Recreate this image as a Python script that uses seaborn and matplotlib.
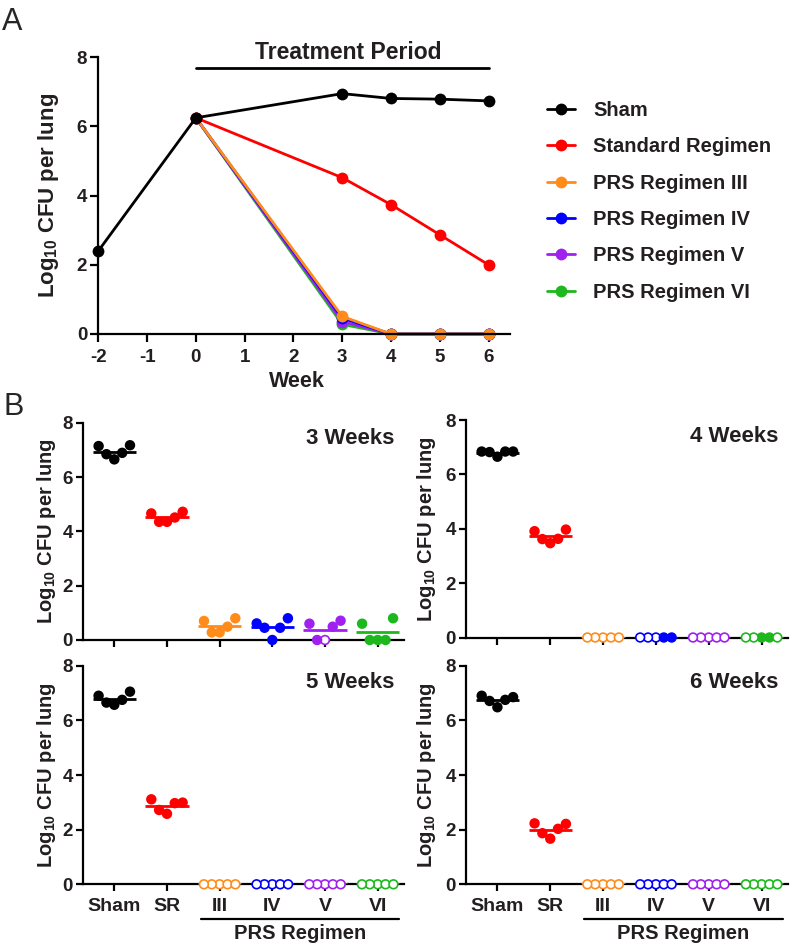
import numpy as np
import pandas as pd
import matplotlib
matplotlib.use('Agg')
import matplotlib.pyplot as plt
from matplotlib.lines import Line2D
import seaborn as sns

# ---- panel A: group means, log10 CFU per lung ----
weeks_sham = [-2, 0, 3, 4, 5, 6]
weeks_tx = [0, 3, 4, 5, 6]
sham_mean = [2.4, 6.25, 6.95, 6.81, 6.79, 6.74]
sr_mean = [6.25, 4.52, 3.74, 2.87, 2.0]
prs3_mean = [6.25, 0.51, 0, 0, 0]
prs4_mean = [6.25, 0.46, 0, 0, 0]
prs5_mean = [6.25, 0.36, 0, 0, 0]
prs6_mean = [6.25, 0.28, 0, 0, 0]

series_names = ['Sham', 'Standard Regimen', 'PRS Regimen III',
                'PRS Regimen IV', 'PRS Regimen V', 'PRS Regimen VI']
colors = ['#000000', '#ff0000', '#ff8c1a', '#0000ff', '#a020f0', '#1db81d']

# ---- panel B: individual mice ----
groups = ['Sham', 'SR', 'III', 'IV', 'V', 'VI']
wk3_cfu = [[7.17, 6.89, 6.65, 6.84, 7.14],
           [4.72, 4.51, 4.35, 4.35, 4.66],
           [0.49, 0.28, 0.80, 0.28, 0.70],
           [0.45, 0.80, 0.0, 0.61, 0.45],
           [0.49, 0.71, 0.0, 0.60, 0.0],
           [0.80, 0.60, 0.0, 0.0, 0.0]]
wk4_cfu = [[6.84, 6.84, 6.65, 6.82, 6.84],
           [3.63, 3.47, 3.97, 3.62, 3.91],
           [0, 0, 0, 0, 0], [0, 0, 0, 0, 0], [0, 0, 0, 0, 0], [0, 0, 0, 0, 0]]
wk5_cfu = [[7.05, 6.75, 6.57, 6.65, 6.90],
           [2.97, 2.58, 3.11, 2.72, 2.99],
           [0, 0, 0, 0, 0], [0, 0, 0, 0, 0], [0, 0, 0, 0, 0], [0, 0, 0, 0, 0]]
wk6_cfu = [[6.90, 6.75, 6.48, 6.71, 6.85],
           [2.03, 2.23, 1.67, 2.21, 1.87],
           [0, 0, 0, 0, 0], [0, 0, 0, 0, 0], [0, 0, 0, 0, 0], [0, 0, 0, 0, 0]]
# culture negative mice (open circles)
wk3_neg = [[0] * 5, [0] * 5, [0] * 5, [0] * 5, [0, 0, 1, 0, 0], [0] * 5]
wk4_neg = [[0] * 5, [0] * 5, [1] * 5, [1, 1, 0, 1, 0], [1] * 5, [0, 1, 0, 1, 1]]
wk5_neg = [[0] * 5, [0] * 5, [1] * 5, [1] * 5, [1] * 5, [1] * 5]
wk6_neg = [[0] * 5, [0] * 5, [1] * 5, [1] * 5, [1] * 5, [1] * 5]

sns.set_style('ticks')
plt.rcParams['font.family'] = ['Liberation Sans', 'DejaVu Sans']
plt.rcParams['font.weight'] = 'bold'
plt.rcParams['axes.labelweight'] = 'bold'
plt.rcParams['axes.unicode_minus'] = False
plt.rcParams['mathtext.fontset'] = 'custom'
plt.rcParams['mathtext.rm'] = 'Liberation Sans:bold'
plt.rcParams['mathtext.it'] = 'Liberation Sans:bold'
plt.rcParams['mathtext.bf'] = 'Liberation Sans:bold'
plt.rcParams['mathtext.default'] = 'rm'
TXT = '#231f20'

W, H = 794, 946
fig = plt.figure(figsize=(W / 100, H / 100), dpi=100)


def box(l, t, r, b):
    return [l / W, 1 - b / H, (r - l) / W, (b - t) / H]


def style_axis(ax, tick_len):
    sns.despine(ax=ax)
    for s in ['left', 'bottom']:
        ax.spines[s].set_linewidth(1.6)
        ax.spines[s].set_color('black')
    ax.tick_params(axis='both', width=1.6, length=tick_len, color='black',
                   labelcolor=TXT, labelsize=13.5)


ylab = 'Log$_{10}$ CFU per lung'

# ---------------- panel A ----------------
axA = fig.add_axes(box(98.3, 57.3, 510, 334))
pal = dict(zip(series_names, colors))
dfa = pd.DataFrame({
    'week': weeks_sham + weeks_tx * 5,
    'cfu': sham_mean + sr_mean + prs3_mean + prs4_mean + prs5_mean + prs6_mean,
    'series': ['Sham'] * len(weeks_sham) + [n for n in series_names[1:] for _ in weeks_tx],
})
sns.lineplot(data=dfa, x='week', y='cfu', hue='series', hue_order=series_names[::-1],
             palette=pal, marker='o', markersize=8.5, markeredgewidth=0, linewidth=2,
             legend=False, clip_on=False, ax=axA)
axA.set_xlim(-2, 6.44)
axA.set_ylim(0, 8)
axA.set_xticks(range(-2, 7))
axA.set_yticks([0, 2, 4, 6, 8])
style_axis(axA, 6)
axA.tick_params(axis='y', pad=2)
axA.tick_params(axis='x', pad=5)
axA.set_xlabel('Week', fontsize=15.5, color=TXT)
axA.set_ylabel(ylab, fontsize=16, color=TXT)
axA.xaxis.set_label_coords(0.483, -0.135)
axA.yaxis.set_label_coords(-0.09, 0.5)
axA.plot([0, 6], [7.7, 7.7], color='black', lw=2, clip_on=False)
axA.text(3.12, 7.82, 'Treatment Period', ha='center', va='bottom', fontsize=16.5, color=TXT)

handles = [Line2D([], [], color=c, marker='o', markersize=8.5, markeredgewidth=0, lw=2)
           for c in colors]
fig.legend(handles, series_names, loc='upper left', bbox_to_anchor=(547 / W, 1 - 101 / H),
           frameon=False, fontsize=14.5, handlelength=1.4, handletextpad=0.9,
           labelspacing=0.86, borderpad=0, borderaxespad=0, labelcolor=TXT)

# ---------------- panel B ----------------
panel_b = [
    (box(82.7, 422.7, 404, 640), wk3_cfu, wk3_neg, '3 Weeks', False, -0.077),
    (box(465.7, 420, 788, 637.5), wk4_cfu, wk4_neg, '4 Weeks', False, -0.086),
    (box(82.7, 665.7, 404, 884.3), wk5_cfu, wk5_neg, '5 Weeks', True, -0.077),
    (box(465.7, 665.7, 788, 884.3), wk6_cfu, wk6_neg, '6 Weeks', True, -0.086),
]
gpal = dict(zip(groups, colors))
swarm_colls = []
b_axes = []

for rect, cfu, neg, title, bottom, ylx in panel_b:
    ax = fig.add_axes(rect)
    b_axes.append(ax)
    df = pd.DataFrame({'group': np.repeat(groups, 5),
                       'cfu': np.concatenate(cfu),
                       'neg': np.concatenate(neg).astype(bool)})
    # swarm laid out with small dots, enlarged after layout so they touch like Prism
    sns.swarmplot(data=df, x='group', y='cfu', hue='group', order=groups,
                  hue_order=groups, palette=gpal, size=4.2, linewidth=0,
                  legend=False, clip_on=False, zorder=3, ax=ax)
    for coll, (g, sub) in zip(list(ax.collections), df.groupby('group', sort=False)):
        coll.set_facecolors(['white' if n else gpal[g] for n in sub['neg']])
        coll.set_edgecolors(gpal[g])
        coll.set_linewidths(1.2)
        swarm_colls.append(coll)
    means = df.groupby('group', sort=False)['cfu'].mean()
    xpos = np.arange(len(groups))
    ax.hlines(means.values, xpos - 0.41, xpos + 0.41, colors=colors, lw=2, zorder=2.8)
    ax.set_xlim(-0.6, 5.5)
    ax.set_yticks([0, 2, 4, 6, 8])
    style_axis(ax, 5)
    ax.tick_params(axis='y', pad=2)
    ax.set_xlabel('')
    ax.set_ylabel(ylab, fontsize=14.5, color=TXT)
    ax.yaxis.set_label_coords(ylx, 0.5)
    ax.text(0.97, 0.925, title, transform=ax.transAxes, ha='right', va='center',
            fontsize=16, color=TXT)
    if bottom:
        ax.tick_params(axis='x', labelsize=14, pad=5)
        tr = ax.get_xaxis_transform()
        ax.plot([1.64, 5.41], [-0.159, -0.159], color='black', lw=1.6,
                transform=tr, clip_on=False)
        ax.text(3.52, -0.227, 'PRS Regimen', transform=tr, ha='center', va='center',
                fontsize=14.5, color=TXT)
    else:
        ax.tick_params(axis='x', labelbottom=False)

fig.text(2 / W, 1 - 30 / H, 'A', fontsize=22, fontweight='normal', va='baseline')
fig.text(3 / W, 1 - 415 / H, 'B', fontsize=22, fontweight='normal', va='baseline')

# lay the swarm out on a squashed y scale (Prism-like even spread), then freeze
# the positions, restore the real y range and enlarge the dots
for ax in b_axes:
    ax.set_ylim(0, 80)
fig.canvas.draw()
for coll in swarm_colls:
    coll.__dict__.pop('draw', None)
    coll.set_sizes([6.3 ** 2] * len(coll.get_offsets()))
for ax in b_axes:
    ax.set_ylim(0, 8)
    ax.set_yticks([0, 2, 4, 6, 8])

fig.savefig('out.png', dpi=100)
